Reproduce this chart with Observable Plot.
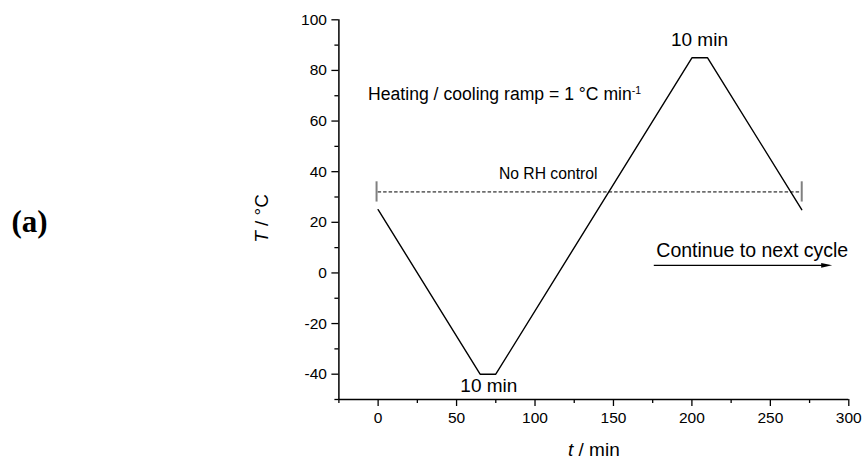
<!DOCTYPE html>
<html>
<head>
<meta charset="utf-8">
<script src="https://cdn.jsdelivr.net/npm/d3@7"></script>
<script src="https://cdn.jsdelivr.net/npm/@observablehq/plot@0.6"></script>
<style>
  html, body { margin: 0; padding: 0; background: white; }
</style>
</head>
<body>
<div id="chart"></div>
<script>
// ---- Data ----
const timeMin = [0, 65, 75, 200, 210, 270];
const tempC   = [25, -40, -40, 85, 85, 25];

const rhLevel = 32;          // dashed "No RH control" line (°C)
const rhStart = 0;           // min
const rhEnd = 270;           // min
const rhBarX = [-1, 270];    // gray end bars
const rhBarLow = 28;
const rhBarHigh = 36;

const arrowX = [175.7, 289.4];
const arrowY = 3;

const xMajorTicks = [0, 50, 100, 150, 200, 250, 300];
const xMinorTicks = [-25, 25, 75, 125, 175, 225, 275];
const yMajorTicks = [-40, -20, 0, 20, 40, 60, 80, 100];
const yMinorTicks = [-50, -30, -10, 10, 30, 50, 70, 90];

const annText = ["Heating / cooling ramp = 1 °C min-1", "No RH control", "10 min", "10 min", "Continue to next cycle"];
const annX    = [-6.4, 108.4, 204.8, 70.6, 177.3];
const annY    = [68.5, 37.3, 89.6, -47, 6.1];

const xLabel = "t / min";
const yLabel = "T / °C";
const panelLabel = "(a)";

// ---- Build ----
const series = timeMin.map((t, i) => ({t, T: tempC[i]}));
const ann = annText.map((s, i) => ({s, x: annX[i], y: annY[i]}));
const annStyle = [
  {anchor: "start", size: 17.6},
  {anchor: "middle", size: 15.7},
  {anchor: "middle", size: 19},
  {anchor: "middle", size: 19},
  {anchor: "start", size: 19.5}
];

const rightTriangle = {
  draw(ctx) {
    ctx.moveTo(0, 0);
    ctx.lineTo(-11, -2.4);
    ctx.lineTo(-11, 2.4);
    ctx.closePath();
  }
};

const fmt = d => String(d);

const marks = [
  // axes lines
  Plot.ruleX([-25], {strokeWidth: 1.5}),
  Plot.ruleY([-50], {strokeWidth: 1.5}),
  Plot.axisX(xMajorTicks, {tickSize: 7, tickPadding: 5, strokeWidth: 1.3, label: null, fontSize: 15.5, tickFormat: fmt}),
  Plot.axisX(xMinorTicks, {tickSize: 4, strokeWidth: 1.3, label: null, tickFormat: () => ""}),
  Plot.axisY(yMajorTicks, {tickSize: 7, tickPadding: 5, strokeWidth: 1.3, label: null, fontSize: 15.5, tickFormat: fmt}),
  Plot.axisY(yMinorTicks, {tickSize: 4, strokeWidth: 1.3, label: null, tickFormat: () => ""}),
  // RH control
  Plot.ruleY([rhLevel], {x1: rhStart, x2: rhEnd, strokeWidth: 1, strokeDasharray: "3.5,2"}),
  Plot.ruleX(rhBarX, {y1: rhBarLow, y2: rhBarHigh, stroke: "#808080", strokeWidth: 2}),
  // temperature program
  Plot.line(series, {x: "t", y: "T", strokeWidth: 1.4, strokeLinejoin: "miter"}),
  // arrow
  Plot.link([0], {x1: arrowX[0], x2: arrowX[1] - 4, y1: arrowY, y2: arrowY, strokeWidth: 1.2}),
  Plot.dot([0], {x: arrowX[1], y: arrowY, symbol: rightTriangle, fill: "black", stroke: "none", r: 5}),
  // annotations
  ...ann.map((a, i) => Plot.text([a], {x: "x", y: "y", text: "s", textAnchor: annStyle[i].anchor, lineAnchor: "bottom", fontSize: annStyle[i].size, fill: "black"})),
  // axis labels
  Plot.text([xLabel], {frameAnchor: "bottom", dy: 50, lineAnchor: "middle", fontSize: 19, fill: "black"}),
  Plot.text([yLabel], {frameAnchor: "left", dx: -77, dy: 8.8, rotate: -90, textAnchor: "middle", lineAnchor: "middle", fontSize: 19, fill: "black"}),
  Plot.text([panelLabel], {frameAnchor: "left", dx: -327.4, dy: 22.5, textAnchor: "start", lineAnchor: "bottom", fontSize: 31, fontWeight: "bold", fontFamily: "Liberation Serif, Times New Roman, serif", fill: "black"})
];

const chart = Plot.plot({
  width: 866,
  height: 462,
  marginLeft: 338.4,
  marginRight: 17.7,
  marginTop: 19.3,
  marginBottom: 63,
  x: {domain: [-25, 300], label: null},
  y: {domain: [-50, 100], label: null},
  style: {fontFamily: "Liberation Sans, Arial, sans-serif", fontSize: "15px", color: "black", background: "white", overflow: "visible"},
  marks
});

// rich text: italics and superscript
chart.querySelectorAll("text").forEach(t => {
  const s = t.textContent;
  if (s === xLabel) t.innerHTML = '<tspan font-style="italic">t</tspan> / min';
  else if (s === yLabel) t.innerHTML = '<tspan font-style="italic">T</tspan> / °C';
  else if (s === annText[0]) t.innerHTML = 'Heating / cooling ramp = 1 °C min<tspan dy="-0.5em" font-size="0.6em">-1</tspan>';
});

document.getElementById("chart").appendChild(chart);
</script>
</body>
</html>
